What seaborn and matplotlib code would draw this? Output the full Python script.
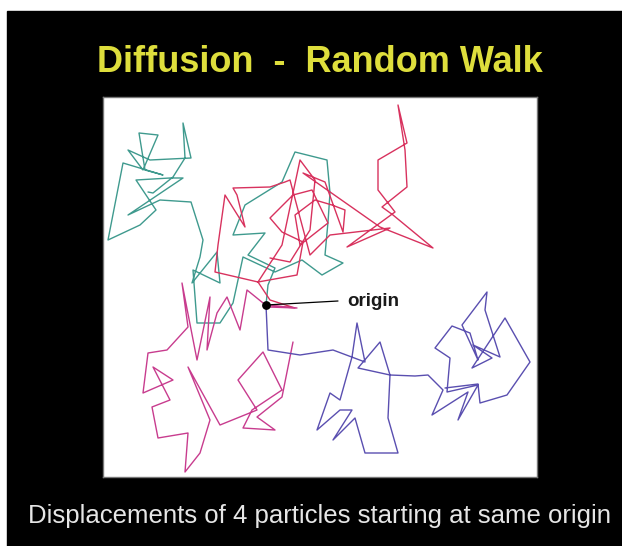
import matplotlib
matplotlib.use('Agg')
import matplotlib.pyplot as plt
import seaborn as sns
import pandas as pd
from matplotlib.patches import Rectangle

sns.set_style('white')
plt.rcParams['font.family'] = ['Liberation Sans', 'DejaVu Sans']

# displacement of each particle from the origin (x to the right, y upwards)
teal_x = [0, 2, 9, -18, -1, -33, -21, 16, 29, 61, 64, 62, 59, 77, 56, 36, 9, -23, -33, -46,
          -69, -73, -46, -49, -74, -66, -63, -75, -106, -138, -83, -96, -130, -110, -126, -158, -143,
          -103, -121, -127, -108, -123, -138, -116, -75, -83, -81, -93, -113, -118]
teal_y = [0, 20, 37, 50, 72, 70, 100, 123, 153, 145, 112, 83, 50, 42, 30, 45, 33, 48, 2, -18,
          -18, 35, 22, 53, 22, 48, 65, 103, 105, 90, 127, 127, 125, 95, 80, 65, 142,
          130, 135, 172, 170, 135, 155, 145, 147, 182, 147, 128, 112, 113]

red_x = [0, 29, 4, -8, 31, 37, 16, 4, 27, 46, 62, 34, 29, 49, 66, 79, 77, 59, 37, 114,
         167, 127, 116, 141, 139, 132, 141, 112, 112, 129, 81, 124, 64, 44, 24, 19, 4, -33, -29, -21,
         -41, -48, -51, -8, 16, 34, 49, 44, 24, 4]
red_y = [0, -3, 5, 23, 30, 63, 73, 87, 110, 115, 82, 60, 90, 105, 100, 95, 73, 123, 132, 78,
         57, 90, 98, 118, 155, 200, 162, 145, 115, 93, 58, 77, 70, 50, 125, 123, 118, 117, 110, 78,
         110, 60, 33, 23, 60, 145, 125, 75, 43, 47]

magenta_x = [0, 31, 2, -19, -26, -39, -49, -59, -56, -69, -84, -78, -99, -118, -123, -93, -113, -96,
             -114, -108, -78, -81, -66, -56, -78, -46, -9, -28, -3, 16, -14, -23, 9, -9, 16, 27]
magenta_y = [0, -3, -2, 15, -25, 8, -8, -45, 8, -55, 22, -22, -45, -48, -88, -75, -62, -95,
             -102, -133, -128, -167, -148, -115, -62, -120, -105, -75, -47, -85, -105, -123, -125, -112, -92, -37]

blue_x = [0, 2, 34, 67, 99, 91, 86, 74, 64, 51, 74, 86, 67, 89, 99, 132, 122, 124, 114, 92,
          124, 149, 162, 177, 166, 202, 192, 212, 181, 184, 169, 186, 204, 212, 196, 221, 219, 234,
          207, 226, 206, 239, 264, 241, 214, 212, 179]
blue_y = [0, -45, -50, -45, -57, -18, -52, -95, -88, -125, -105, -105, -135, -113, -148, -148, -113, -70, -37, -63,
          -70, -71, -70, -85, -110, -87, -115, -80, -87, -53, -43, -21, -28, -55, -20, 13, -5, -52,
          -40, -53, -63, -13, -57, -90, -98, -79, -83]

walks = [
    (teal_x, teal_y, '#3f9a8e'),
    (red_x, red_y, '#d8325e'),
    (magenta_x, magenta_y, '#c83c8e'),
    (blue_x, blue_y, '#5a4fb0'),
]

fig = plt.figure(figsize=(6.22, 5.46), dpi=100)
fig.patch.set_facecolor('white')

# black slide behind everything
bg = fig.add_axes([0, 0, 1, 1], zorder=0)
bg.set_axis_off()
bg.add_patch(Rectangle((7 / 622, 0), 1 - 7 / 622, 1 - 11 / 546, color='black'))
bg.set_xlim(0, 1)
bg.set_ylim(0, 1)

ax = fig.add_axes([103 / 622, 69 / 546, 434 / 622, 380 / 546], zorder=2)
ax.set_facecolor('white')

for wx, wy, col in walks:
    df = pd.DataFrame({'x': wx, 'y': wy})
    sns.lineplot(data=df, x='x', y='y', sort=False, estimator=None,
                 color=col, linewidth=1.0, ax=ax)

ax.scatter([0], [0], s=28, color='black', zorder=5)
ax.plot([0, 72], [0, 4], color='black', linewidth=0.9)
ax.text(81, 4, 'origin', fontsize=13.5, fontweight='bold', color='#1a1a1a', va='center', ha='left')

ax.set_xlim(-163, 271)
ax.set_ylim(-172, 208)
ax.set_xticks([])
ax.set_yticks([])
ax.set_xlabel('')
ax.set_ylabel('')
for s in ax.spines.values():
    s.set_color('#777777')
    s.set_linewidth(1)

fig.text(320 / 622, 1 - 62 / 546, 'Diffusion  -  Random Walk', color='#dede3c',
         fontsize=26, fontweight='bold', ha='center', va='center', zorder=3)
fig.text(320 / 622, 1 - 516 / 546, 'Displacements of 4 particles starting at same origin',
         color='#e6e6e6', fontsize=18.5, ha='center', va='center', zorder=3)

fig.savefig('out.png', dpi=100)
